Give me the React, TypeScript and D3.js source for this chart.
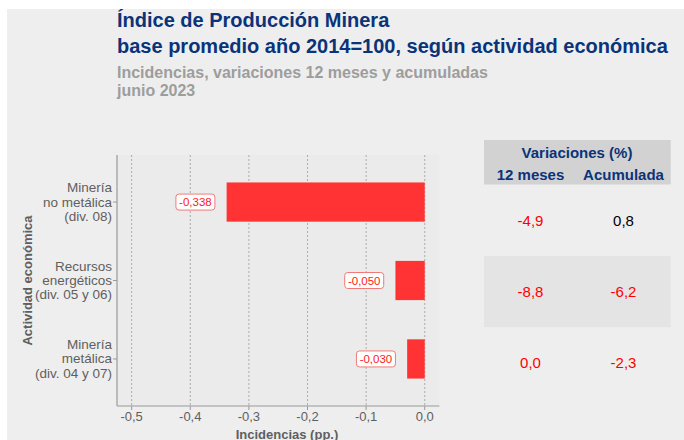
import * as d3 from "d3";

// datos
const categorias = [
  ["Minería", "no metálica", "(div. 08)"],
  ["Recursos", "energéticos", "(div. 05 y 06)"],
  ["Minería", "metálica", "(div. 04 y 07)"],
];
const incidencias = [-0.338, -0.05, -0.03];
const var12Meses = [-4.9, -8.8, -0.0];
const varAcumulada = [0.8, -6.2, -2.3];
const xTicks = [-0.5, -0.4, -0.3, -0.2, -0.1, 0.0];

const titulo = ["Índice de Producción Minera", "base promedio año 2014=100, según actividad económica"];
const subtitulo = ["Incidencias, variaciones 12 meses y acumuladas", "junio 2023"];

const locale = d3.formatLocale({ decimal: ",", thousands: ".", grouping: [3], currency: ["", ""], minus: "-" });
const f1 = locale.format(".1f");
const f3 = locale.format(".3f");

const NAVY = "#0b3379";
const RED = "#ff3333";
const FONT = "'Liberation Sans', Arial, sans-serif";

export default function App() {
  const W = 684,
    H = 440;
  const panel = { left: 117, right: 439.4, top: 155, bottom: 406 };

  const x = d3.scaleLinear().domain([-0.525, 0.025]).range([panel.left, panel.right]);
  const keys = categorias.map((_, i) => String(i));
  const y = d3.scalePoint().domain(keys).range([panel.top, panel.bottom]).padding(0.6);
  const barH = y.step() * 0.5;

  const rows = d3.scaleBand().domain(keys).range([184.5, 398.5]);
  const col1 = 530.5,
    col2 = 623.5;

  return (
    <svg width={W} height={H} style={{ position: "absolute", left: 0, top: 0 }} fontFamily={FONT}>
      <rect x={7} y={9} width={W - 7} height={H - 9} fill="#eeeeee" />
      <rect x={panel.left} y={panel.top} width={panel.right - panel.left} height={panel.bottom - panel.top} fill="#ebebeb" />

      {/* títulos */}
      {titulo.map((t, i) => (
        <text key={t} x={117} y={27 + i * 26} fontSize={20} fontWeight="bold" fill={NAVY}>
          {t}
        </text>
      ))}
      {subtitulo.map((t, i) => (
        <text key={t} x={117} y={78 + i * 18} fontSize={16} fontWeight="bold" fill="#9d9d9d">
          {t}
        </text>
      ))}

      {/* grilla */}
      {xTicks.map((t) => (
        <line key={t} x1={x(t)} x2={x(t)} y1={panel.top} y2={panel.bottom} stroke="#9a9a9a" strokeWidth={0.8} strokeDasharray="2,2" />
      ))}

      {/* barras */}
      {incidencias.map((v, i) => (
        <rect
          key={i}
          x={x(v)}
          y={(y(String(i)) as number) - barH / 2}
          width={x(0) - x(v)}
          height={barH}
          fill={RED}
        />
      ))}

      {/* etiquetas */}
      {incidencias.map((v, i) => {
        const label = f3(v);
        const w = 39;
        const xr = x(v - 0.02);
        const cy = y(String(i)) as number;
        return (
          <g key={i}>
            <rect x={xr - w} y={cy - 8} width={w} height={16} rx={3} fill="white" stroke="#f07a7a" strokeWidth={1} />
            <text x={xr - w / 2} y={cy + 4} textAnchor="middle" fontSize={11.5} fill="#ff1a1a">
              {label}
            </text>
          </g>
        );
      })}

      {/* ejes */}
      <line x1={panel.left} x2={panel.left} y1={panel.top} y2={panel.bottom} stroke="#9a9a9a" strokeWidth={1.2} />
      <line x1={panel.left} x2={panel.right} y1={panel.bottom} y2={panel.bottom} stroke="#9a9a9a" strokeWidth={1.2} />
      {xTicks.map((t) => (
        <g key={t}>
          <line x1={x(t)} x2={x(t)} y1={panel.bottom} y2={panel.bottom + 4} stroke="#9a9a9a" />
          <text x={x(t)} y={421} textAnchor="middle" fontSize={13} fill="#5f5f5f">
            {f1(t)}
          </text>
        </g>
      ))}
      {categorias.map((lines, i) => {
        const cy = y(String(i)) as number;
        return (
          <g key={i}>
            <line x1={panel.left - 4} x2={panel.left} y1={cy} y2={cy} stroke="#9a9a9a" />
            {lines.map((l, j) => (
              <text key={j} x={112} y={cy + 4.5 + (j - 1) * 14.3} textAnchor="end" fontSize={13.5} fill="#5f5f5f">
                {l}
              </text>
            ))}
          </g>
        );
      })}
      <text x={287} y={438.5} textAnchor="middle" fontSize={13} fontWeight="bold" fill="#5f5f5f">
        Incidencias (pp.)
      </text>
      <text
        transform={`translate(31.5, ${(panel.top + panel.bottom) / 2}) rotate(-90)`}
        textAnchor="middle"
        fontSize={13}
        fontWeight="bold"
        fill="#5f5f5f"
      >
        Actividad económica
      </text>

      {/* tabla */}
      <rect x={484} y={140} width={186.7} height={44.5} fill="#d2d2d2" />
      <rect x={484} y={rows("1")} width={186.7} height={rows.bandwidth()} fill="#e4e4e4" />
      <text x={577} y={158} textAnchor="middle" fontSize={15} fontWeight="bold" fill={NAVY}>
        Variaciones (%)
      </text>
      <text x={col1} y={180} textAnchor="middle" fontSize={15} fontWeight="bold" fill={NAVY}>
        12 meses
      </text>
      <text x={col2} y={180} textAnchor="middle" fontSize={15} fontWeight="bold" fill={NAVY}>
        Acumulada
      </text>
      {keys.map((k, i) => {
        const cy = (rows(k) as number) + rows.bandwidth() / 2 + 5.5;
        return (
          <g key={k}>
            <text x={col1} y={cy} textAnchor="middle" fontSize={15} fill={var12Meses[i] <= 0 ? "#ff0000" : "#000"}>
              {f1(var12Meses[i]).replace(/^-0,0$/, "0,0")}
            </text>
            <text x={col2} y={cy} textAnchor="middle" fontSize={15} fill={varAcumulada[i] <= 0 ? "#ff0000" : "#000"}>
              {f1(varAcumulada[i])}
            </text>
          </g>
        );
      })}
    </svg>
  );
}
